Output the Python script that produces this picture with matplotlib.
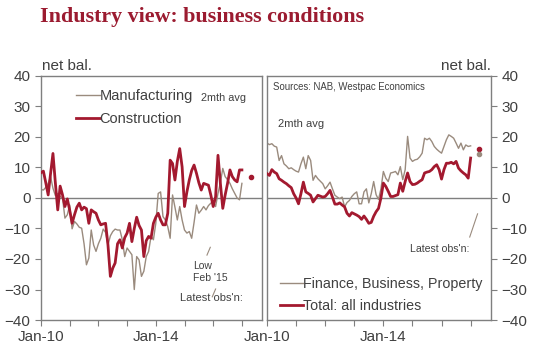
import numpy as np
import matplotlib
matplotlib.use("Agg")
import matplotlib.pyplot as plt

plt.rcParams['font.family'] = ['Liberation Sans', 'DejaVu Sans']

# monthly, Jan-10 .. Jan-17, net balance, 2mth avg
construction = [8.3, 8.8, 5, 1, 8, 14.6, 5, -3.9, 3.9, 1, -2.8, -0.3,
                -4, -8.3, -5.5, -3, -1.7, -3.9, -3, -3.5, -8.3, -3.9, -4.5, -5,
                -7.2, -8.8, -8.5, -8.3, -15.4, -25.7, -23, -21.3, -15, -13.7, -16.4, -13,
                -11.5, -8.3, -14.3, -10, -6.3, -9, -10.5, -19.2, -14, -12.6, -13.2, -8.3,
                -6.3, -5, -7.2, -8.8, -8.8, -5, 12.4, 11.3, 5.9, 12, 16.2, 10.2,
                -2.8, 2, 5.9, 9, 10.8, 8.1, 5, 2.6, 4.8, 4.5, 4.2, 1,
                -2.8, 0.4, 14, 4.8, -3.4, 1, 4.8, 9.2, 7, 5.9, 5.3, 9.2, 9.2]
manufacturing = [2.8, 2.6, 3.5, 4.8, 7, 3.2, 0.8, 1.5, 0.5, 0, -6.6, -5.5,
                 -2.3, -10.1, -7.7, -8.5, -9.6, -9.9, -15, -21.9, -19.7, -10.5, -15.4, -17.5,
                 -15, -13.2, -10.2, -11.3, -15.4, -12.4, -11, -10.2, -10.5, -10.5, -13.7, -19.2,
                 -16.4, -17.5, -18.6, -30, -19.2, -20.3, -25.7, -24, -19.2, -17.5, -12.6, -13.7,
                 -8.3, 1.5, 2, -6.1, -7.2, -9.4, -13.2, 1, -3, -7.2, -2.8, -7.2,
                 -10.5, -11.5, -11, -13.2, -8, -2.3, -5, -4, -2.8, -3.9, -2.5, -1.7,
                 -1.2, -2.8, 1.5, 5, 9.7, 7, 6, 4.8, 3, 1.5, 0, -0.6, 4.8]
total = [8, 7.4, 9.3, 8.5, 8, 6.3, 5.8, 5.2, 4.7, 4, 3.4, 1.4,
         0, -1.9, 1.4, 5.2, 2, 1.5, 0.9, -1.3, -0.2, 0.9, 0.6, 0.3,
         0.5, 1.4, 2.5, 0.3, -2, -2, -1.6, -2.3, -2.9, -5, -5.9, -4.8,
         -5.2, -5.6, -6.1, -7, -5.9, -7, -8.3, -8, -6, -4.5, -3.4, 0,
         4.9, 3.8, 2.2, 0.5, 0.5, 0.8, 1.1, 4.9, 2.2, 5.4, 8.2, 5.4,
         4.4, 4.5, 4.9, 5.5, 6, 8.2, 8.5, 8.7, 9.3, 10.3, 10.9, 9.3,
         6.2, 9.3, 11.4, 11.4, 11.7, 11.2, 12, 9.8, 8.9, 8.2, 7.6, 6.5, 13.1]
fbp = [18, 17.5, 17.8, 17, 16.7, 12.3, 13.9, 11.2, 10.5, 9.6, 9.9, 9.3,
       8.8, 8.5, 11.2, 13.4, 9.6, 13.9, 12.3, 5.8, 7.4, 6.3, 5.5, 4.7,
       3, 4, 5.2, 3, 0.9, 0.3, -0.2, 0.3, -2.9, -1.5, -0.8, 0.5,
       1.4, 2, -1.9, -1.9, 2, 3, -1.6, 1.4, 5.4, 1.1, -0.5, 3,
       8.7, 6.5, 5.4, 8.2, 8.4, 8.7, 7.6, 10.3, 6, 9.3, 20.2, 13.1,
       12, 12.5, 12.7, 13.5, 14.7, 19.6, 19.1, 19.6, 18.5, 16.9, 16, 15.3,
       14.7, 16.9, 19.1, 20.7, 20.2, 19.6, 18, 16.3, 18, 15.8, 17.4, 16.9, 17.1]

# latest obs'n dots: (month index, value)
latest_left = [(88, 7.0)]
latest_right = [(87.4, 16.1), (87.4, 14.5)]

tick_labels = {0: "Jan-10", 48: "Jan-14"}

RED = "#A3192F"
GREY = "#9A8B7E"
FRAME = "#7F7F7F"
TXT = "#404040"

months = np.arange(len(construction))

fig = plt.figure(figsize=(5.42, 3.6), dpi=100)
axl = fig.add_axes([41 / 542, 40 / 360, 221 / 542, 244 / 360])
axr = fig.add_axes([267 / 542, 40 / 360, 224 / 542, 244 / 360])

for ax in (axl, axr):
    ax.set_xlim(0, 92.4)
    ax.set_ylim(-40, 40)
    ax.axhline(0, color=FRAME, lw=1.0, zorder=1)
    for s in ax.spines.values():
        s.set_color(FRAME)
        s.set_linewidth(1.0)
    ax.set_xticks(np.arange(0, 92, 12))
    ax.set_xticklabels([tick_labels.get(t, "") for t in range(0, 92, 12)])
    ax.tick_params(axis='x', direction='out', length=4, color=FRAME,
                   labelsize=11, labelcolor=TXT, pad=3)
    ax.set_yticks(np.arange(-40, 41, 10))

axl.tick_params(axis='y', direction='out', length=4, color=FRAME,
                labelsize=11, labelcolor=TXT, left=True, right=False)
axr.tick_params(axis='y', direction='out', length=4, color=FRAME,
                labelsize=11, labelcolor=TXT, left=False, right=True,
                labelleft=False, labelright=True)

# left panel
axl.plot(months, manufacturing, color=GREY, lw=1.0, label="Manufacturing", zorder=2)
axl.plot(months, construction, color=RED, lw=2.0, label="Construction", zorder=3)
for m, v in latest_left:
    axl.plot(m, v, "o", color=RED, ms=3)
axl.legend(loc="upper left", bbox_to_anchor=(0.1, 1.0), frameon=False,
           fontsize=10.5, handlelength=1.6, handletextpad=0.0,
           labelspacing=0.6, labelcolor=TXT)
axl.text(0.725, 0.91, "2mth avg", transform=axl.transAxes, fontsize=7.8,
         color=TXT, va="center")
axl.text(0.69, 0.24, "Low\nFeb '15", transform=axl.transAxes, fontsize=7.5,
         color=TXT, va="top", linespacing=1.15)
axl.text(0.63, 0.09, "Latest obs'n:", transform=axl.transAxes, fontsize=8,
         color=TXT, va="center")
axl.plot([0.766, 0.751], [0.298, 0.266], transform=axl.transAxes, color=GREY, lw=0.8)
axl.plot([0.79, 0.775], [0.127, 0.095], transform=axl.transAxes, color=GREY, lw=0.8)

# right panel
axr.plot(months, fbp, color=GREY, lw=1.0, label="Finance, Business, Property", zorder=2)
axr.plot(months, total, color=RED, lw=2.0, label="Total: all industries", zorder=3)
for (m, v), c in zip(latest_right, [RED, GREY]):
    axr.plot(m, v, "o", color=c, ms=3)
axr.legend(loc="lower left", bbox_to_anchor=(0.0, -0.025), frameon=False,
           fontsize=10.3, handlelength=1.6, handletextpad=0.0,
           labelspacing=0.6, labelcolor=TXT)
axr.text(0.025, 0.955, "Sources: NAB, Westpac Economics", transform=axr.transAxes,
         fontsize=6.9, color=TXT, va="center")
axr.text(0.05, 0.79, "2mth avg", transform=axr.transAxes, fontsize=8, color=TXT)
axr.text(0.64, 0.29, "Latest obs'n:", transform=axr.transAxes, fontsize=7.6,
         color=TXT, va="center")
axr.plot([0.94, 0.905], [0.435, 0.34], transform=axr.transAxes, color=GREY, lw=0.8)

fig.text(42 / 542, 1 - 66 / 360, "net bal.", fontsize=11, color=TXT, va="center")
fig.text(491 / 542, 1 - 66 / 360, "net bal.", fontsize=11, color=TXT, va="center", ha="right")
fig.text(40 / 542, 1 - 17 / 360, "Industry view: business conditions",
         family="Liberation Serif", fontweight="bold", fontsize=15.8, color="#9B1B30",
         va="center")

fig.savefig("out.png", dpi=100)
